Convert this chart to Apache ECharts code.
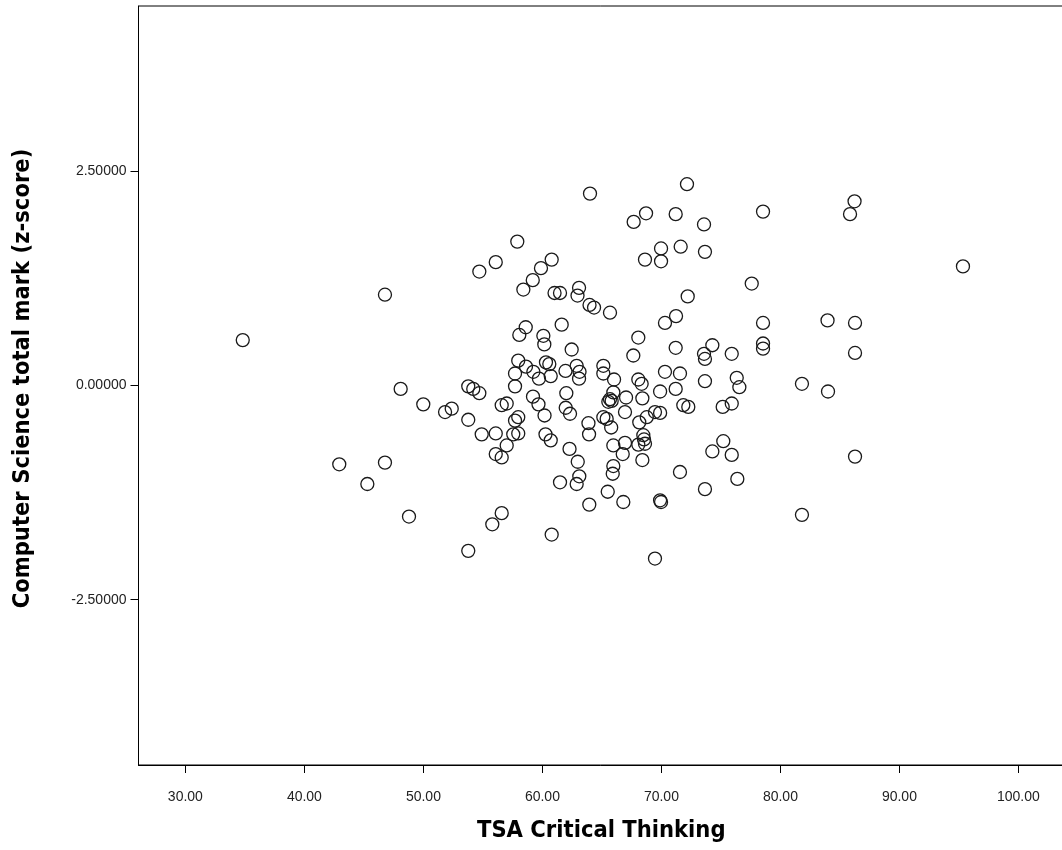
<!DOCTYPE html>
<html>
<head>
<meta charset="utf-8">
<title>TSA Critical Thinking vs Computer Science z-score</title>
<script src="https://cdn.jsdelivr.net/npm/echarts@6/dist/echarts.min.js"></script>
<style>
  html, body { margin: 0; padding: 0; background: #fff; }
  #chart { width: 1062px; height: 850px; }
</style>
</head>
<body>
<div id="chart"></div>
<script>
// TSA Critical Thinking score (x) and CS total mark z-score (y)
var tsaScores = [
  34.82, 46.77, 48.09, 49.99, 51.82, 52.38, 42.93, 46.77, 45.29, 48.79,
  53.77, 53.77, 54.19, 54.70, 53.77, 54.90, 56.08, 56.58, 57.00, 57.70,
  57.70, 57.97, 57.55, 57.97, 57.00, 56.08, 56.58, 55.79, 56.58, 60.78,
  54.70, 56.08, 57.89, 59.88, 60.78, 59.19, 58.40, 61.02, 61.48, 63.08,
  62.95, 63.96, 64.34, 61.62, 58.60, 58.06, 60.08, 60.16, 62.46, 57.97,
  58.62, 59.24, 60.30, 60.58, 57.70, 59.71, 60.70, 61.94, 62.88, 63.12,
  63.08, 59.21, 59.67, 60.18, 62.01, 61.96, 62.32, 60.26, 60.70, 62.28,
  62.97, 63.10, 62.88, 61.48, 63.94, 63.87, 63.92, 64.00, 72.15, 67.67,
  68.71, 71.20, 73.58, 78.54, 85.85, 86.23, 69.97, 71.62, 68.62, 69.97,
  73.66, 77.59, 95.34, 72.21, 65.68, 71.23, 70.30, 78.54, 83.96, 86.27,
  68.06, 67.64, 71.20, 74.28, 73.58, 73.66, 75.91, 78.54, 78.54, 86.27,
  65.12, 65.12, 66.02, 68.06, 68.34, 70.30, 71.56, 73.66, 76.33, 76.55,
  81.81, 84.00, 65.96, 65.68, 65.82, 65.54, 67.03, 68.40, 69.89, 71.20,
  71.84, 72.26, 75.15, 75.91, 66.94, 69.46, 69.89, 68.77, 65.12, 65.40,
  65.78, 68.14, 65.96, 66.94, 66.75, 68.06, 68.48, 68.62, 68.54, 68.40,
  65.96, 65.91, 71.56, 75.20, 74.28, 75.91, 76.38, 73.66, 65.49, 66.80,
  69.89, 69.97, 69.46, 81.81, 86.27
];
var csZScores = [
  0.53, 1.06, -0.04, -0.22, -0.31, -0.27, -0.92, -0.90, -1.15, -1.53,
  -1.93, -0.01, -0.04, -0.09, -0.40, -0.57, -0.56, -0.23, -0.21, -0.01,
  -0.41, -0.37, -0.57, -0.56, -0.70, -0.80, -0.84, -1.62, -1.49, -1.74,
  1.33, 1.44, 1.68, 1.37, 1.47, 1.23, 1.12, 1.08, 1.08, 1.14,
  1.05, 0.94, 0.91, 0.71, 0.68, 0.59, 0.58, 0.48, 0.42, 0.29,
  0.22, 0.16, 0.27, 0.25, 0.14, 0.08, 0.11, 0.17, 0.23, 0.16,
  0.08, -0.13, -0.22, -0.35, -0.09, -0.26, -0.33, -0.57, -0.64, -0.74,
  -0.89, -1.06, -1.15, -1.13, -1.39, -0.44, -0.57, 2.24, 2.35, 1.91,
  2.01, 2.00, 1.88, 2.03, 2.00, 2.15, 1.60, 1.62, 1.47, 1.45,
  1.56, 1.19, 1.39, 1.04, 0.85, 0.81, 0.73, 0.73, 0.76, 0.73,
  0.56, 0.35, 0.44, 0.47, 0.37, 0.31, 0.37, 0.49, 0.43, 0.38,
  0.23, 0.14, 0.07, 0.07, 0.02, 0.16, 0.14, 0.05, 0.09, -0.02,
  0.02, -0.07, -0.08, -0.16, -0.18, -0.19, -0.14, -0.15, -0.07, -0.04,
  -0.23, -0.25, -0.25, -0.21, -0.31, -0.31, -0.32, -0.37, -0.37, -0.39,
  -0.49, -0.43, -0.70, -0.67, -0.80, -0.69, -0.58, -0.68, -0.63, -0.87,
  -0.94, -1.03, -1.01, -0.65, -0.77, -0.81, -1.09, -1.21, -1.24, -1.36,
  -1.34, -1.36, -2.02, -1.51, -0.83
];
var xTicks = [30, 40, 50, 60, 70, 80, 90, 100];
var yTicks = [-2.5, 0, 2.5];

var chart = echarts.init(document.getElementById('chart'), null, { renderer: 'canvas' });

var points = tsaScores.map(function (x, i) { return [x, csZScores[i]]; });

var labelFont = '"Liberation Sans", Arial, sans-serif';
var nameFont = '"Liberation Sans Narrow", "Arial Narrow", "DejaVu Sans Condensed", sans-serif';

var option = {
  backgroundColor: '#ffffff',
  animation: false,
  grid: {
    left: 138.5,
    right: -2,
    top: 6,
    bottom: 85,
    containLabel: false,
    outerBoundsMode: 'none',
    show: true,
    borderColor: '#000',
    borderWidth: 1
  },
  xAxis: {
    type: 'value',
    min: 26.06,
    max: 103.83,
    name: 'TSA Critical Thinking',
    nameLocation: 'middle',
    nameGap: 54,
    nameTextStyle: { fontFamily: nameFont, fontWeight: 'bold', fontSize: 23.5, color: '#000' },
    axisLine: { show: true, onZero: false, lineStyle: { color: '#000', width: 1 } },
    axisTick: { show: true, length: 8, customValues: xTicks, lineStyle: { color: '#000' } },
    axisLabel: {
      customValues: xTicks,
      margin: 25,
      fontFamily: labelFont,
      fontSize: 14,
      color: '#222',
      formatter: function (v) { return v.toFixed(2); }
    },
    splitLine: { show: false }
  },
  yAxis: {
    type: 'value',
    min: -4.43,
    max: 4.43,
    name: 'Computer Science total mark (z-score)',
    nameLocation: 'middle',
    nameGap: 104,
    nameTextStyle: {
      fontFamily: nameFont, fontWeight: 'bold', fontSize: 23.5, color: '#000',
      padding: [0, 0, 0, 14]
    },
    axisLine: { show: true, onZero: false, lineStyle: { color: '#000', width: 1 } },
    axisTick: { show: true, length: 8, customValues: yTicks, lineStyle: { color: '#000' } },
    axisLabel: {
      customValues: yTicks,
      margin: 12,
      fontFamily: labelFont,
      fontSize: 14,
      color: '#222',
      formatter: function (v) { return v.toFixed(5); }
    },
    splitLine: { show: false }
  },
  series: [{
    type: 'scatter',
    data: points,
    symbol: 'circle',
    symbolSize: 13,
    itemStyle: {
      color: 'rgba(0,0,0,0)',
      borderColor: '#1a1a1a',
      borderWidth: 1.3,
      opacity: 1
    },
    emphasis: { disabled: true }
  }]
};

chart.setOption(option);
</script>
</body>
</html>
